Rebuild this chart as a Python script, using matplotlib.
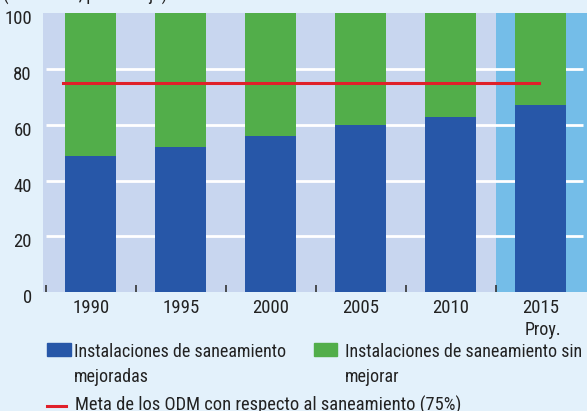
import matplotlib.pyplot as plt
from matplotlib.patches import Rectangle
from matplotlib.lines import Line2D
from matplotlib.transforms import ScaledTranslation
import numpy as np

plt.rcParams['font.family'] = ['Roboto Condensed', 'DejaVu Sans']

years = ['1990', '1995', '2000', '2005', '2010', '2015']
mejoradas = [49, 52, 56, 60, 63, 67]
sin_mejorar = [51, 48, 44, 40, 37, 33]
meta = 75

blue = '#2757a8'
green = '#52ae4a'
red = '#e0202a'
txt = '#222222'

W, H = 587, 411
fig = plt.figure(figsize=(W / 100, H / 100), dpi=100)
fig.patch.set_facecolor('#e3f1fb')
ax = fig.add_axes([43 / W, 1 - 292 / H, 544 / W, 278.5 / H])
ax.set_facecolor('#c8d6ef')

x = np.arange(len(years))
ax.set_xlim(-0.533, 5.512)
ax.set_ylim(0, 100)

# zona de proyeccion
ax.axvspan(4.5, 5.6, color='#74bde8', zorder=0.5, lw=0)
for g in [20, 40, 60, 80]:
    ax.hlines(g, -0.5, 5.47, color='white', lw=2, zorder=1)

ax.bar(x, mejoradas, width=0.567, color=blue, zorder=2)
ax.bar(x, sin_mejorar, width=0.567, bottom=mejoradas, color=green, zorder=2)
ax.plot([-0.31, 4.98], [meta, meta], color=red, lw=2.2, zorder=3)

for s in ax.spines.values():
    s.set_visible(False)

ax.set_yticks([0, 20, 40, 60, 80, 100])
ax.tick_params(axis='y', length=0, labelsize=13.5, pad=8, labelcolor=txt)
off = ScaledTranslation(0, -4 / 100, fig.dpi_scale_trans)
for lb in ax.get_yticklabels():
    lb.set_transform(lb.get_transform() + off)
ax.set_xticks(x)
ax.set_xticklabels(years)
ax.set_xticks(np.arange(-0.5, 5.0, 1), minor=True)
ax.tick_params(axis='x', which='major', length=0, labelsize=13.5, pad=5, labelcolor=txt)
ax.tick_params(axis='x', which='minor', direction='in', length=5, width=1.2, color='#333333')

fig.text(543 / W, 1 - 335 / H, 'Proy.', ha='center', va='baseline', fontsize=13, color=txt)
fig.text(3 / W, 1 - 0.5 / H, '(Cobertura, porcentaje)', ha='left', va='baseline', fontsize=13, color=txt)

# leyenda
fig.patches.append(Rectangle((47 / W, 1 - 356 / H), 24 / W, 13 / H,
                             transform=fig.transFigure, color=blue))
fig.text(74 / W, 1 - 356.5 / H, 'Instalaciones de saneamiento', va='baseline', fontsize=13, color=txt)
fig.text(74 / W, 1 - 382 / H, 'mejoradas', va='baseline', fontsize=13, color=txt)
fig.patches.append(Rectangle((314 / W, 1 - 356 / H), 23 / W, 13 / H,
                             transform=fig.transFigure, color=green))
fig.text(345 / W, 1 - 356.5 / H, 'Instalaciones de saneamiento sin', va='baseline', fontsize=13, color=txt)
fig.text(345 / W, 1 - 382 / H, 'mejorar', va='baseline', fontsize=13, color=txt)
fig.lines.append(Line2D([47 / W, 66 / W], [1 - 405.5 / H, 1 - 405.5 / H],
                        transform=fig.transFigure, color=red, lw=2.2))
fig.text(75 / W, 1 - 410.5 / H, 'Meta de los ODM con respecto al saneamiento (75%)',
         va='baseline', fontsize=13.3, color=txt)

fig.savefig('out.png', dpi=100, facecolor=fig.get_facecolor())
